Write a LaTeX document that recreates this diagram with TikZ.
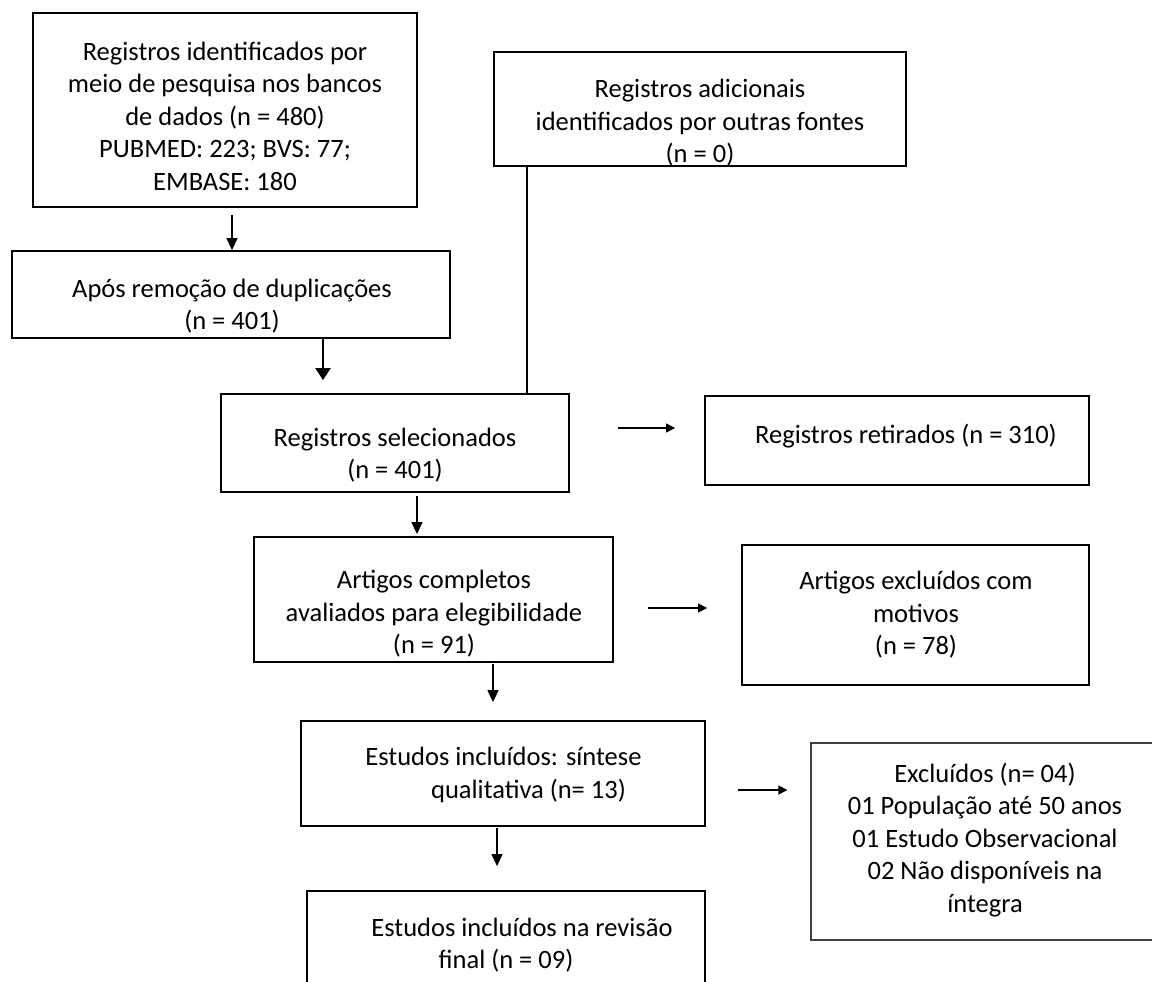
\documentclass[tikz,border=0pt]{standalone}
\usepackage{fontspec}
\setmainfont{Carlito}
\usetikzlibrary{arrows.meta}
\tikzset{
  every picture/.style={line join=miter},
  box/.style={draw, line width=1.8pt, inner sep=0pt},
  thinbox/.style={draw=black!75, line width=1.2pt, inner sep=0pt},
  txt/.style={align=center, inner sep=0pt, font=\fontsize{26.5}{32.5}\selectfont},
  arr/.style={-{Triangle[length=12pt,width=11pt]}, line width=1.3pt},
  bigarr/.style={-{Triangle[length=12pt,width=15pt]}, line width=2pt},
  sidearr/.style={-{Triangle[length=9pt,width=9pt]}, line width=1.3pt},
  link/.style={line width=2pt},
}

\begin{document}
\begin{tikzpicture}[x=1pt,y=-1pt]
\useasboundingbox (0,0) rectangle (1152,982);
\clip (0,0) rectangle (1152,982);
% boxes
\node[box, minimum width=384pt, minimum height=194pt] (ident) at (225,110) {};
\node[box, minimum width=438pt, minimum height=87pt] (dupl) at (231,294.5) {};
\node[box, minimum width=412pt, minimum height=114pt] (adic) at (700,109) {};
\node[box, minimum width=348pt, minimum height=98pt] (selec) at (395,443) {};
\node[box, minimum width=384pt, minimum height=89pt] (retir) at (897,440.5) {};
\node[box, minimum width=359pt, minimum height=125pt] (artig) at (433.5,599.5) {};
\node[box, minimum width=347pt, minimum height=140pt] (excl) at (915.5,615) {};
\node[box, minimum width=404pt, minimum height=105pt] (sint) at (503,773.5) {};
\node[thinbox, minimum width=359pt, minimum height=197pt] (motivo) at (990.5,841.5) {};
\node[box, minimum width=398pt, minimum height=109pt] (final) at (506,945.5) {};
% texts
\node[txt] (ident-t) at (225,116) {Registros identificados por\\meio de pesquisa nos bancos\\de dados (n = 480)\\PUBMED: 223; BVS: 77;\\EMBASE: 180};
\node[txt] (dupl-t) at (232,306) {Após remoção de duplicações\\(n = 401)};
\node[txt] (adic-t) at (700,123) {Registros adicionais\\identificados por outras fontes\\(n = 0)};
\node[txt] (selec-t) at (395,455) {Registros selecionados\\(n = 401)};
\node[txt] (retir-t) at (906,436) {Registros retirados (n = 310)};
\node[txt] (artig-t) at (434,614) {Artigos completos\\avaliados para elegibilidade\\(n = 91)};
\node[txt] (excl-t) at (916,615) {Artigos excluídos com\\motivos\\(n = 78)};
\node[txt] (sint-t) at (503.5,775) {Estudos incluídos: síntese\\\hspace*{50pt}qualitativa (n= 13)};
\node[txt] (motivo-t) at (985,840) {Excluídos (n= 04)\\01 População até 50 anos\\01 Estudo Observacional\\02 Não disponíveis na\\íntegra};
\node[txt] (final-t) at (506,945) {\hspace*{32pt}Estudos incluídos na revisão\\final (n = 09)};
% vertical connectors
\draw[arr, shorten <=7pt] ([xshift=7pt]ident.south) -- ([xshift=7pt]ident.south |- dupl.north);
\draw[bigarr, shorten >=13pt] ([xshift=92pt]dupl.south) -- ([xshift=92pt]dupl.south |- selec.north);
\draw[link] ([xshift=34pt]adic.south west) -- ([xshift=34pt]adic.south west |- selec.north);
\draw[arr, shorten <=3pt, shorten >=2pt] ([xshift=22pt]selec.south) -- ([xshift=22pt]selec.south |- artig.north);
\draw[arr, shorten <=1pt, shorten >=18pt] ([xshift=59.5pt]artig.south) -- ([xshift=59.5pt]artig.south |- sint.north);
\draw[arr, shorten <=1pt, shorten >=24pt] ([xshift=-6pt]sint.south) -- ([xshift=-6pt]sint.south |- final.north);
% side connectors
\draw[sidearr, shorten <=48pt, shorten >=29pt] ([yshift=15pt]selec.east) -- ([yshift=15pt]selec.east -| retir.west);
\draw[sidearr, shorten <=34pt, shorten >=34pt] ([yshift=-8.5pt]artig.east) -- ([yshift=-8.5pt]artig.east -| excl.west);
\draw[sidearr, shorten <=32pt, shorten >=23pt] ([yshift=-16.5pt]sint.east) -- ([yshift=-16.5pt]sint.east -| motivo.west);
\end{tikzpicture}
\end{document}
